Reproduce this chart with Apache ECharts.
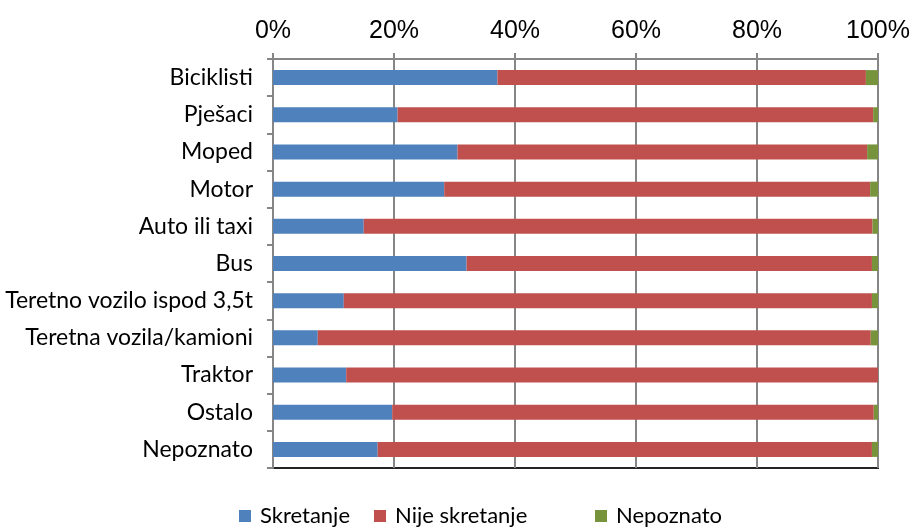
<!DOCTYPE html>
<html>
<head>
<meta charset="utf-8">
<script src="https://cdn.jsdelivr.net/npm/echarts@6/dist/echarts.min.js"></script>
<style>
  html, body { margin: 0; padding: 0; background: #fff; }
  #chart { width: 910px; height: 527px; }
</style>
</head>
<body>
<div id="chart"></div>
<script>
var categories = ['Biciklisti', 'Pješaci', 'Moped', 'Motor', 'Auto ili taxi', 'Bus',
	'Teretno vozilo ispod 3,5t', 'Teretna vozila/kamioni', 'Traktor', 'Ostalo', 'Nepoznato'];

// udjeli u postocima
var skretanje     = [37.1, 20.6, 30.5, 28.3, 15.0, 32.0, 11.7, 7.4, 12.1, 19.7, 17.3];
var nijeSkretanje = [60.9, 78.6, 67.7, 70.4, 84.1, 67.0, 87.3, 91.4, 87.9, 79.6, 81.7];
var nepoznato     = [2.0, 0.8, 1.8, 1.3, 0.9, 1.0, 1.0, 1.2, 0.0, 0.7, 1.0];

var seriesNames = ['Skretanje', 'Nije skretanje', 'Nepoznato'];
var colors = ['#4F81BD', '#C0504D', '#77933C'];

var myChart = echarts.init(document.getElementById('chart'));

function makeSeries(name, data, color) {
	return {
		name: name,
		type: 'bar',
		stack: 'ukupno',
		barWidth: 15,
		data: data,
		itemStyle: { color: color },
		emphasis: { disabled: true }
	};
}

var legendText = { fontFamily: 'Lato', fontSize: 22, color: '#000', padding: [0, 0, 0, 4] };

var option = {
	animation: false,
	color: colors,
	grid: {
		left: 273,
		right: 32,
		top: 59,
		bottom: 59,
		outerBoundsMode: 'none',
		containLabel: false,
		show: true,
		borderColor: '#222',
		borderWidth: 2
	},
	legend: [{
		data: ['Skretanje', 'Nije skretanje'],
		left: 234,
		top: 500,
		itemWidth: 12,
		itemHeight: 12,
		itemGap: 24,
		icon: 'rect',
		textStyle: legendText
	}, {
		data: ['Nepoznato'],
		left: 590,
		top: 500,
		itemWidth: 12,
		itemHeight: 12,
		icon: 'rect',
		textStyle: legendText
	}],
	xAxis: {
		type: 'value',
		position: 'top',
		min: 0,
		max: 100,
		interval: 20,
		axisLine: { show: true, lineStyle: { color: '#868686', width: 2 } },
		axisTick: { show: true, length: 6, lineStyle: { color: '#868686', width: 2 } },
		splitLine: { show: true, lineStyle: { color: '#868686', width: 2 } },
		axisLabel: {
			formatter: '{value}%',
			fontFamily: 'Liberation Sans',
			fontSize: 25,
			color: '#000',
			margin: 15
		}
	},
	yAxis: {
		type: 'category',
		inverse: true,
		data: categories,
		axisLine: { show: true, lineStyle: { color: '#868686', width: 2 } },
		axisTick: { show: true, length: 6, lineStyle: { color: '#868686', width: 2 } },
		axisLabel: {
			fontFamily: 'Lato',
			fontSize: 23,
			color: '#000',
			margin: 20
		}
	},
	series: [
		makeSeries(seriesNames[0], skretanje, colors[0]),
		makeSeries(seriesNames[1], nijeSkretanje, colors[1]),
		makeSeries(seriesNames[2], nepoznato, colors[2])
	]
};

myChart.setOption(option);
</script>
</body>
</html>
